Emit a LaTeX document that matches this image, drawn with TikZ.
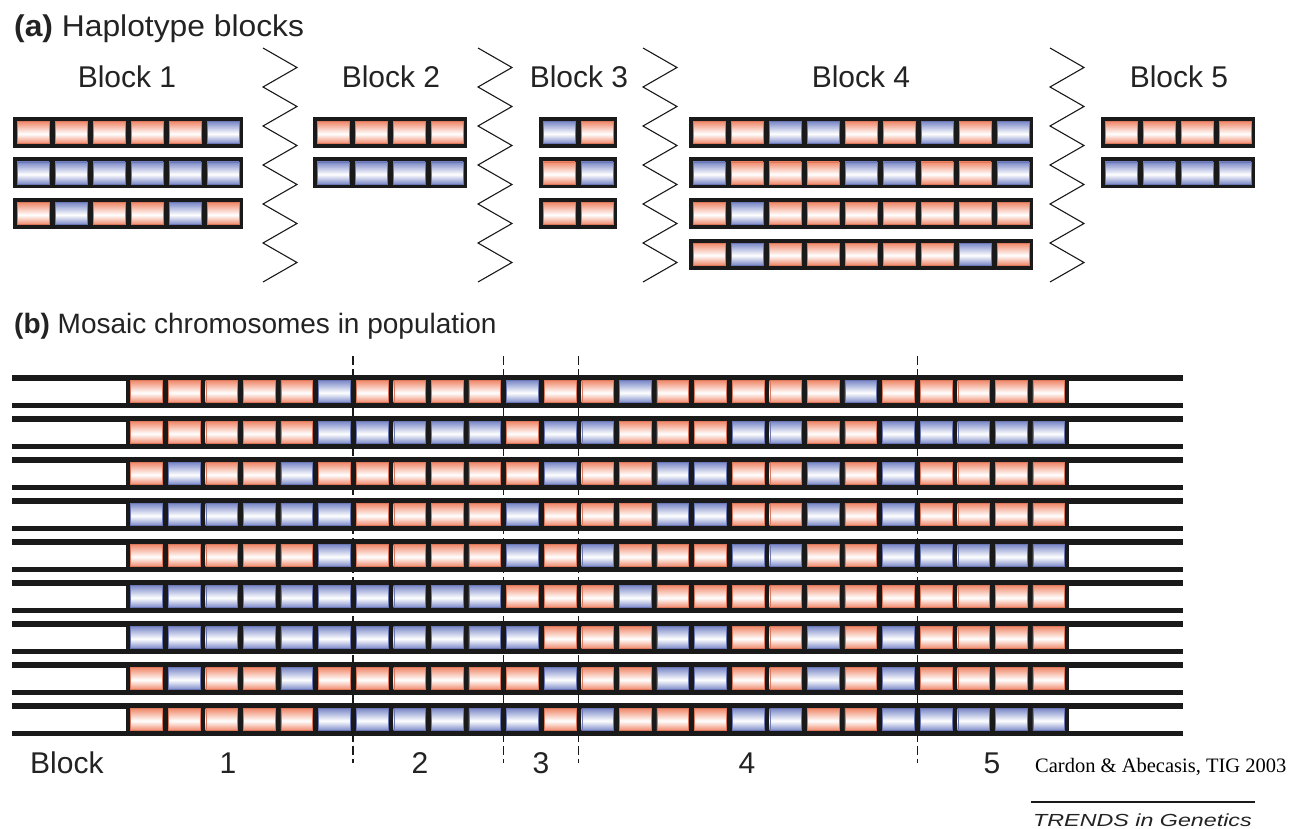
\documentclass[tikz,border=0pt]{standalone}
\usepackage{fontspec}
\setmainfont{Liberation Sans}
\newfontfamily\citefont{Liberation Serif}

% allele colours
\definecolor{colP}{RGB}{240,138,108}
\definecolor{edgeP}{RGB}{222,120,92}
\definecolor{colB}{RGB}{124,138,200}
\definecolor{edgeB}{RGB}{108,120,182}
\definecolor{ink}{RGB}{26,26,26}
\definecolor{txt}{RGB}{35,35,35}

% glossy cell fills: colour at the edges, white band just below the middle
\pgfdeclareverticalshading{shP}{100bp}{color(0bp)=(colP); color(25bp)=(colP); color(47bp)=(white); color(75bp)=(colP); color(100bp)=(colP)}
\pgfdeclareverticalshading{shB}{100bp}{color(0bp)=(colB); color(25bp)=(colB); color(47bp)=(white); color(75bp)=(colB); color(100bp)=(colB)}

\tikzset{
  lbl/.style={font=\fontsize{30}{36}\selectfont, text=txt, inner sep=0pt},
  zig/.style={draw=ink, line width=1.1pt, line join=miter},
  divider/.style={draw=ink, line width=1.6pt, dash pattern=on 9pt off 4pt},
}

% one haplotype: x, y (top), number of cells, list of alleles
\newcommand\hapline[4]{%
  \fill[ink] (#1,#2) rectangle ++({2+38*#3},31);
  \foreach \cl [count=\j from 0] in {#4} {
    \path[shading=sh\cl, draw=edge\cl, line width=.4pt]
      ({#1+4+38*\j},{#2+4.5}) rectangle ++(32,22);
  }%
}

% recombination break between blocks
\newcommand\zigzag[1]{%
  \draw[zig] (#1,48) \foreach \k in {0,...,5} { -- ({#1+34},{67.5+39*\k}) -- (#1,{87+39*\k}) };%
}

\begin{document}
\begin{tikzpicture}[x=1pt,y=-1pt]
\useasboundingbox (0,0) rectangle (1295,829);
\fill[white] (0,0) rectangle (1295,829);

% ---------- (a) haplotype blocks ----------
\node[lbl, anchor=base west] (titleA) at (14,36.5) {\scalebox{1.06}[1]{\bfseries (a)\mdseries{} Haplotype blocks}};

\node[lbl, anchor=base] (hb1) at (127,88) {Block 1};
\node[lbl, anchor=base] (hb2) at (391,88) {Block 2};
\node[lbl, anchor=base] (hb3) at (579,88) {Block 3};
\node[lbl, anchor=base] (hb4) at (861,88) {Block 4};
\node[lbl, anchor=base] (hb5) at (1179,88) {Block 5};

\hapline{13}{117}{6}{P,P,P,P,P,B}
\hapline{13}{157.5}{6}{B,B,B,B,B,B}
\hapline{13}{198}{6}{P,B,P,P,B,P}

\hapline{313}{117}{4}{P,P,P,P}
\hapline{313}{157.5}{4}{B,B,B,B}

\hapline{539}{117}{2}{B,P}
\hapline{539}{157.5}{2}{P,B}
\hapline{539}{198}{2}{P,P}

\hapline{689}{117}{9}{P,P,B,B,P,P,B,P,B}
\hapline{689}{157.5}{9}{B,P,P,P,B,B,P,P,B}
\hapline{689}{198}{9}{P,B,P,P,P,P,P,P,P}
\hapline{689}{238.5}{9}{P,B,P,P,P,P,P,B,P}

\hapline{1101}{117}{4}{P,P,P,P}
\hapline{1101}{157.5}{4}{B,B,B,B}

\zigzag{263}
\zigzag{478}
\zigzag{643}
\zigzag{1050}

% ---------- (b) mosaic chromosomes ----------
\node[lbl, anchor=base west, font=\fontsize{28}{34}\selectfont] (titleB) at (14,333) {\bfseries (b)\mdseries{} Mosaic chromosomes in population};

\foreach \rowlist [count=\i from 0] in {
  {P,P,P,P,P,B, P,P,P,P, B,P, P,B,P,P,P,P,P,B,P, P,P,P,P},
  {P,P,P,P,P,B, B,B,B,B, P,B, B,P,P,P,B,B,P,P,B, B,B,B,B},
  {P,B,P,P,B,P, P,P,P,P, P,B, P,P,B,B,P,P,B,P,B, P,P,P,P},
  {B,B,B,B,B,B, P,P,P,P, B,P, P,P,B,B,P,P,B,P,B, P,P,P,P},
  {P,P,P,P,P,B, P,P,P,P, B,P, B,P,P,P,B,B,P,P,B, B,B,B,B},
  {B,B,B,B,B,B, B,B,B,B, P,P, P,B,P,P,P,P,P,P,P, P,P,P,P},
  {B,B,B,B,B,B, B,B,B,B, B,P, P,P,B,B,P,P,B,P,B, P,P,P,P},
  {P,B,P,P,B,P, P,P,P,P, P,B, P,P,B,B,P,P,B,P,B, P,P,P,P},
  {P,P,P,P,P,B, B,B,B,B, B,P, B,P,P,P,B,B,P,P,B, B,B,B,B}} {
  \pgfmathsetmacro\T{375+41*\i}
  % chromosome strands and the typed region
  \fill[ink] (12,\T) rectangle (1183,{\T+5.5});
  \fill[ink] (12,{\T+27.5}) rectangle (1183,{\T+33});
  \fill[ink] (126,\T) rectangle (1069,{\T+33});
  \foreach \cl [count=\j from 0] in \rowlist {
    \path[shading=sh\cl, draw=edge\cl, line width=.4pt]
      ({130.5+37.6*\j},{\T+5.5}) rectangle ++(31.6,22);
  }
}

% block boundaries
\foreach \x in {353,503.5,578.5,917.5} {
  \draw[divider] (\x,356) -- (\x,763);
}

\node[lbl, anchor=base west] (blockword) at (30,773) {Block};
\node[lbl, anchor=base] (n1) at (228,773) {1};
\node[lbl, anchor=base] (n2) at (420,773) {2};
\node[lbl, anchor=base] (n3) at (541,773) {3};
\node[lbl, anchor=base] (n4) at (747,773) {4};
\node[lbl, anchor=base] (n5) at (992,773) {5};

\node[anchor=base west, inner sep=0pt, font=\citefont\fontsize{20.5}{24}\selectfont] (cite) at (1035,772) {Cardon \& Abecasis, TIG 2003};

\draw[ink, line width=1.3pt] (1031,802) -- (1255,802);
\node[anchor=base west, inner sep=0pt, text=txt, font=\itshape\fontsize{17.5}{21}\selectfont] (journal) at (1033,826) {\scalebox{1.33}[1]{TRENDS in Genetics}};
\end{tikzpicture}
\end{document}
